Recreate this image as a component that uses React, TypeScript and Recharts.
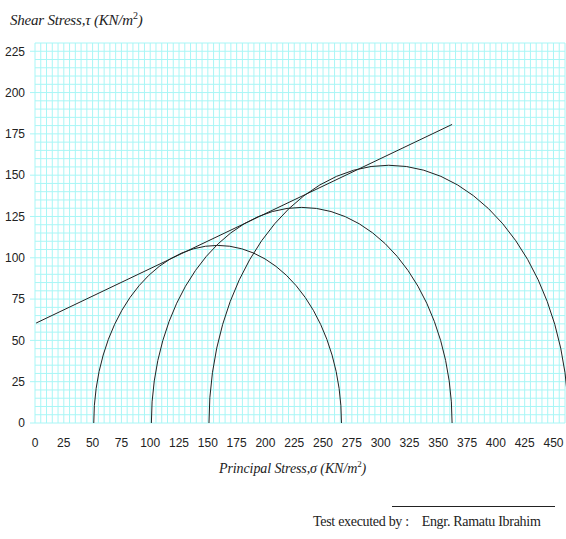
import React from "react";
import {
  ComposedChart,
  Line,
  XAxis,
  YAxis,
  CartesianGrid,
  ReferenceArea,
} from "recharts";

// Mohr circles: minor and major principal stresses (kN/m2)
const sigma3 = [51, 101, 151];
const sigma1 = [266, 362, 463];

// failure envelope end points
const envelope = [
  { sigma: 1, tau: 60.5 },
  { sigma: 362, tau: 180.7 },
];

const xTicks = [0, 25, 50, 75, 100, 125, 150, 175, 200, 225, 250, 275, 300, 325, 350, 375, 400, 425, 450];
const yTicks = [0, 25, 50, 75, 100, 125, 150, 175, 200, 225];

// fine graph-paper grid, every 5 units
const xGrid = Array.from({ length: 93 }, (_, i) => i * 5);
const yGrid = Array.from({ length: 47 }, (_, i) => i * 5);

const gridColor = "#a9f6f6";
const tickFont = { fontSize: 12, fill: "#222", fontFamily: "'Liberation Sans Narrow', 'Liberation Sans', Arial, sans-serif" };

const HalfCircle = (props: any) => {
  const { x, y, width, height } = props;
  if (x == null || width == null) return null;
  const d = `M${x},${y + height} A${width / 2},${height} 0 0 1 ${x + width},${y + height}`;
  return <path d={d} fill="none" stroke="#222" strokeWidth={1} />;
};

const serif = "'Liberation Serif', 'Times New Roman', serif";

export default function App() {
  return (
    <div style={{ position: "absolute", left: 0, top: 0, width: 566, height: 539, background: "#fff" }}>
      <ComposedChart
        width={566}
        height={539}
        margin={{ top: 43, right: 1, left: 0, bottom: 86 }}
      >
        <CartesianGrid
          stroke={gridColor}
          strokeWidth={1}
          verticalValues={xGrid}
          horizontalValues={yGrid}
        />
        <XAxis
          type="number"
          dataKey="sigma"
          domain={[0, 460]}
          ticks={xTicks}
          interval={0}
          tick={tickFont}
          axisLine={false}
          tickLine={false}
          tickMargin={9}
          height={30}
          allowDataOverflow
        />
        <YAxis
          type="number"
          domain={[0, 230]}
          ticks={yTicks}
          interval={0}
          tick={tickFont}
          axisLine={false}
          tickLine={{ stroke: gridColor }}
          tickSize={5}
          tickMargin={5}
          width={35}
          allowDataOverflow
        />
        {sigma3.map((s3, i) => (
          <ReferenceArea
            key={i}
            x1={s3}
            x2={sigma1[i]}
            y1={0}
            y2={(sigma1[i] - s3) / 2}
            ifOverflow="visible"
            shape={<HalfCircle />}
          />
        ))}
        <Line
          data={envelope}
          dataKey="tau"
          type="linear"
          stroke="#222"
          strokeWidth={1}
          dot={false}
          activeDot={false}
          isAnimationActive={false}
        />
      </ComposedChart>
      <div style={{ position: "absolute", left: 10, top: 8, fontFamily: serif, fontStyle: "italic", fontSize: 15, lineHeight: "15px", color: "#222", whiteSpace: "nowrap", letterSpacing: -0.2 }}>
        Shear Stress,τ (KN/m<sup style={{ fontSize: 10, fontStyle: "normal" }}>2</sup>)
      </div>
      <div style={{ position: "absolute", left: 219, top: 457, fontFamily: serif, fontStyle: "italic", fontSize: 14, lineHeight: "14px", color: "#222", whiteSpace: "nowrap", letterSpacing: -0.1 }}>
        Principal Stress,σ (KN/m<sup style={{ fontSize: 9, fontStyle: "normal" }}>2</sup>)
      </div>
      <div style={{ position: "absolute", left: 392, top: 506, width: 163, height: 0, borderTop: "1px solid #222" }} />
      <div style={{ position: "absolute", left: 313, top: 515, fontFamily: serif, fontSize: 14, lineHeight: "14px", color: "#222", whiteSpace: "pre", letterSpacing: -0.3 }}>
        {"Test executed by :    Engr. Ramatu Ibrahim"}
      </div>
    </div>
  );
}
